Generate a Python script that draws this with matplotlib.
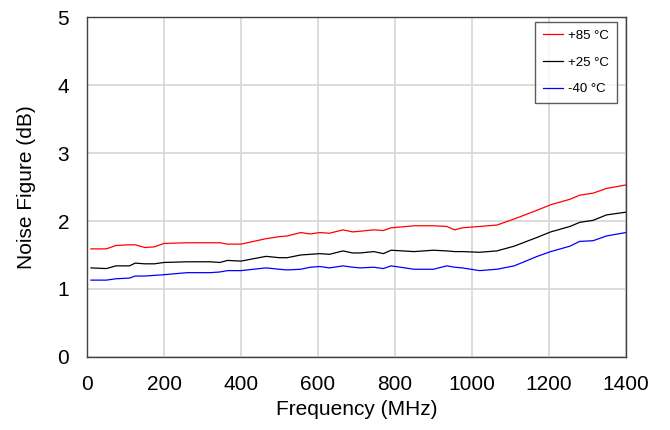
import matplotlib

matplotlib.use("Agg")
import matplotlib.pyplot as plt

plt.rcParams["font.family"] = ["Liberation Sans", "DejaVu Sans"]

# frequency grid (MHz) shared by all three temperature curves
freq = [10, 50, 75, 110, 125, 150, 175, 200, 260, 320, 345, 365, 400, 465,
        500, 520, 555, 580, 605, 630, 665, 690, 710, 745, 770, 790, 850, 900,
        935, 955, 975, 1020, 1065, 1110, 1170, 1205, 1255, 1280, 1315, 1350, 1400]

nf_85 = [1.59, 1.59, 1.64, 1.65, 1.65, 1.61, 1.62, 1.67, 1.68, 1.68, 1.68, 1.66, 1.66, 1.74,
         1.77, 1.78, 1.83, 1.81, 1.83, 1.82, 1.87, 1.84, 1.85, 1.87, 1.86, 1.90, 1.93, 1.93,
         1.92, 1.87, 1.90, 1.92, 1.94, 2.03, 2.16, 2.24, 2.32, 2.38, 2.41, 2.48, 2.53]
nf_25 = [1.31, 1.30, 1.34, 1.34, 1.38, 1.37, 1.37, 1.39, 1.40, 1.40, 1.39, 1.42, 1.41, 1.48,
         1.46, 1.46, 1.50, 1.51, 1.52, 1.51, 1.56, 1.53, 1.53, 1.55, 1.52, 1.57, 1.55, 1.57,
         1.56, 1.55, 1.55, 1.54, 1.56, 1.63, 1.76, 1.84, 1.92, 1.98, 2.01, 2.09, 2.13]
nf_m40 = [1.13, 1.13, 1.15, 1.16, 1.19, 1.19, 1.20, 1.21, 1.24, 1.24, 1.25, 1.27, 1.27, 1.31,
          1.29, 1.28, 1.29, 1.32, 1.33, 1.31, 1.34, 1.32, 1.31, 1.32, 1.30, 1.34, 1.29, 1.29,
          1.34, 1.32, 1.31, 1.27, 1.29, 1.34, 1.48, 1.55, 1.63, 1.70, 1.71, 1.78, 1.83]

labels = ["+85 °C", "+25 °C", "-40 °C"]
colors = ["#ff0000", "#000000", "#0000ff"]

fig = plt.figure(figsize=(6.7, 4.3), dpi=100)
ax = fig.add_axes([0.130, 0.170, 0.804, 0.790])

for ys, lab, col in zip([nf_85, nf_25, nf_m40], labels, colors):
    ax.plot(freq, ys, color=col, linewidth=0.9, label=lab)

ax.set_xlim(0, 1400)
ax.set_ylim(0, 5)
ax.set_xticks(range(0, 1401, 200))
ax.set_yticks(range(0, 6))
ax.grid(color="#d9d9d9", linewidth=1.3)
ax.set_axisbelow(True)
ax.tick_params(length=0, labelsize=15)
ax.tick_params(axis="x", pad=13)
ax.tick_params(axis="y", pad=13)
for s in ax.spines.values():
    s.set_color("#404040")
    s.set_linewidth(1.0)

ax.set_xlabel("Frequency (MHz)", fontsize=15, labelpad=4)
ax.set_ylabel("Noise Figure (dB)", fontsize=15, labelpad=15)

leg = ax.legend(loc="upper right", bbox_to_anchor=(0.984, 0.987), fontsize=9.5,
                fancybox=False, shadow=False, edgecolor="#333333",
                handlelength=1.5, labelspacing=1.1, borderpad=0.6,
                handletextpad=0.4, borderaxespad=0.0)
leg.get_frame().set_linewidth(1.0)

fig.savefig("out.png", dpi=100)
